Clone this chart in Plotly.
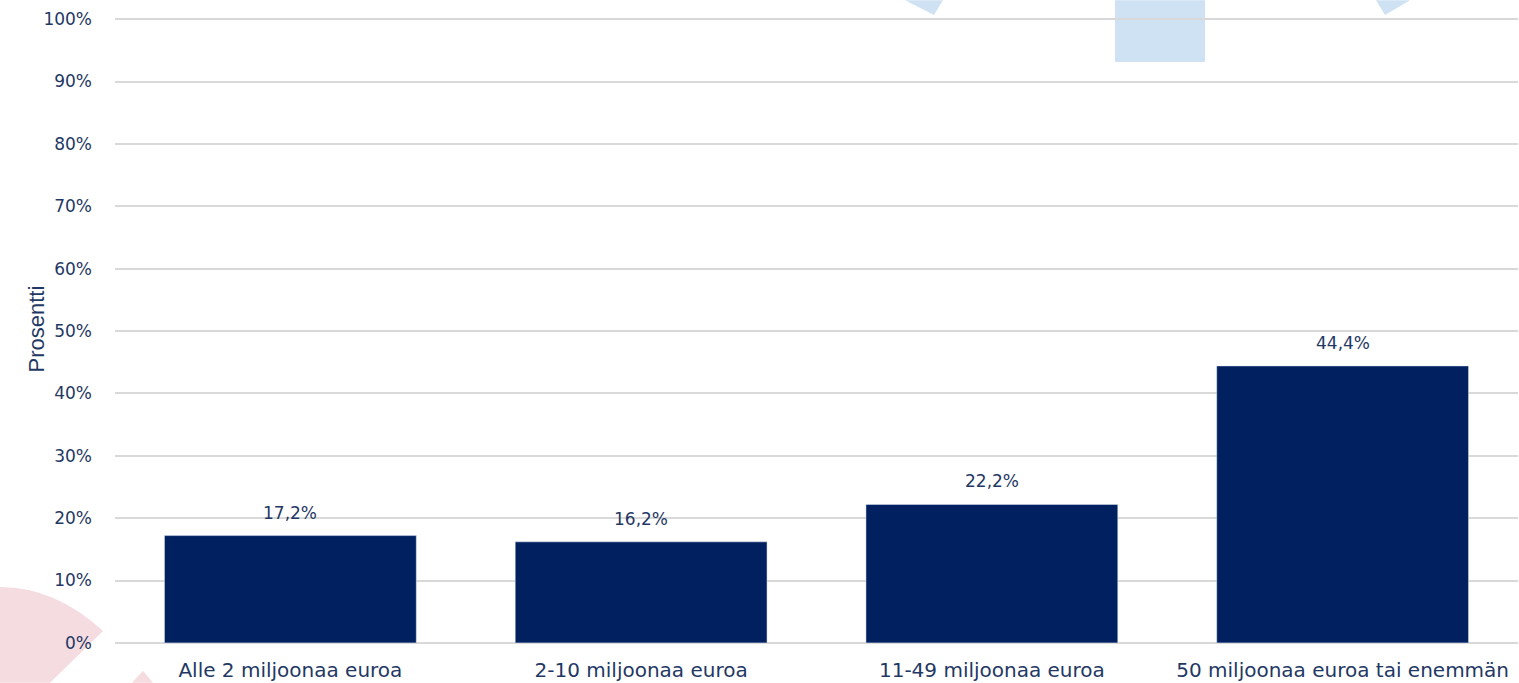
import plotly.graph_objects as go

categories = ["Alle 2 miljoonaa euroa", "2-10 miljoonaa euroa", "11-49 miljoonaa euroa", "50 miljoonaa euroa tai enemmän"]
values = [17.2, 16.2, 22.2, 44.4]
value_labels = ["17,2%", "16,2%", "22,2%", "44,4%"]
tick_vals = [0, 10, 20, 30, 40, 50, 60, 70, 80, 90, 100]
tick_text = ["0%", "10%", "20%", "30%", "40%", "50%", "60%", "70%", "80%", "90%", "100%"]

W, H = 1519, 683
EXT = 0.5                      # small range padding so 0% and 100% gridlines show
UNIT = (643 - 19) / 100.0      # pixels per percent
L, R = 115, 1
T = 19 - EXT * UNIT
B = (H - 643) - EXT * UNIT
PW = W - L - R
PH = H - T - B

def px(x):
    return (x - L) / PW

def py(y):
    return (H - B - y) / PH

NAVY = "#1F3864"
BAR = "#002060"
FONT = "'DejaVu Sans', sans-serif"

fig = go.Figure()
fig.add_trace(go.Bar(
    x=categories, y=values, marker_color=BAR, width=0.718,
    hoverinfo="skip", showlegend=False,
))

for c, v, t in zip(categories, values, value_labels):
    fig.add_annotation(x=c, y=v, text=t, showarrow=False, yanchor="middle",
                       yshift=23, font=dict(size=17, color=NAVY, family=FONT))

fig.add_annotation(xref="paper", yref="paper", x=px(22), y=py(329), text="Prosentti",
                   textangle=-90, showarrow=False,
                   font=dict(size=22, color=NAVY, family="'Liberation Sans', Arial, sans-serif"))

blue = "#CFE2F3"
pink = "#F4DCE1"
shapes = [
    dict(type="rect", xref="paper", yref="paper", layer="below",
         x0=px(1115), x1=px(1205), y0=py(62), y1=py(0),
         fillcolor=blue, line=dict(width=0)),
    dict(type="path", xref="paper", yref="paper", layer="below",
         path=f"M {px(905)} {py(0)} L {px(934)} {py(15)} L {px(943)} {py(0)} Z",
         fillcolor=blue, line=dict(width=0)),
    dict(type="path", xref="paper", yref="paper", layer="below",
         path=f"M {px(1376)} {py(0)} L {px(1385)} {py(15)} L {px(1410)} {py(0)} Z",
         fillcolor=blue, line=dict(width=0)),
    dict(type="path", xref="paper", yref="paper", layer="below",
         path=(f"M {px(0)} {py(587)} Q {px(55)} {py(587)} {px(103)} {py(631)} "
               f"L {px(50)} {py(683)} L {px(0)} {py(683)} Z"),
         fillcolor=pink, line=dict(width=0)),
    dict(type="path", xref="paper", yref="paper", layer="below",
         path=f"M {px(143)} {py(671)} L {px(132)} {py(683)} L {px(153)} {py(683)} Z",
         fillcolor=pink, line=dict(width=0)),
]

fig.update_layout(
    width=W, height=H,
    margin=dict(l=L, r=R, t=T, b=B, pad=0),
    paper_bgcolor="white", plot_bgcolor="rgba(0,0,0,0)",
    shapes=shapes,
    bargap=0.282,
    font=dict(family=FONT, color=NAVY),
    xaxis=dict(showgrid=False, showline=False, zeroline=False, ticks="",
               ticklabelstandoff=10,
               tickfont=dict(size=20, color=NAVY, family=FONT)),
    yaxis=dict(range=[-EXT, 100 + EXT], tickvals=tick_vals, ticktext=tick_text,
               showgrid=True, gridcolor="#D9D9D9", gridwidth=2, zeroline=False,
               showline=False, ticks="", ticklabelstandoff=22,
               tickfont=dict(size=17, color=NAVY, family=FONT)),
)

fig.write_html("out.html", config={"displayModeBar": False},
               post_script="document.body.style.margin='0';document.body.style.overflow='hidden';")
